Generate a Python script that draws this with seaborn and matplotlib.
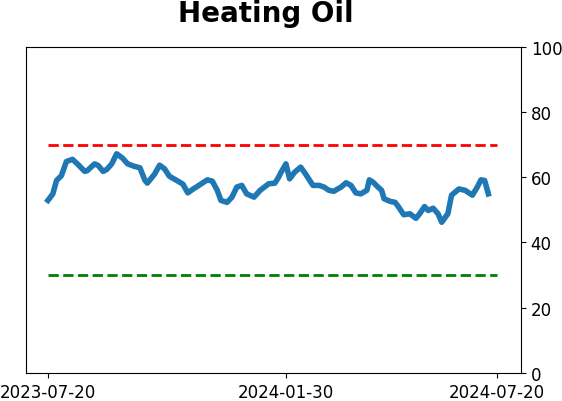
import matplotlib
matplotlib.use('Agg')
import matplotlib.pyplot as plt
import matplotlib.dates as mdates
import seaborn as sns
import pandas as pd

dates = ['2023-07-20', '2023-07-24', '2023-07-27', '2023-07-31', '2023-08-04', '2023-08-09',
         '2023-08-13', '2023-08-19', '2023-08-21', '2023-08-27', '2023-08-30', '2023-09-03',
         '2023-09-06', '2023-09-10', '2023-09-14', '2023-09-19', '2023-09-23', '2023-09-28',
         '2023-10-03', '2023-10-07', '2023-10-09', '2023-10-15', '2023-10-19', '2023-10-23',
         '2023-10-27', '2023-11-03', '2023-11-07', '2023-11-11', '2023-11-15', '2023-11-18',
         '2023-11-22', '2023-11-27', '2023-12-01', '2023-12-05', '2023-12-08', '2023-12-13',
         '2023-12-17', '2023-12-21', '2023-12-25', '2023-12-29', '2024-01-04', '2024-01-09',
         '2024-01-16', '2024-01-21', '2024-01-24', '2024-01-26', '2024-01-30', '2024-02-02',
         '2024-02-06', '2024-02-11', '2024-02-15', '2024-02-21', '2024-02-26', '2024-03-01',
         '2024-03-05', '2024-03-09', '2024-03-15', '2024-03-19', '2024-03-23', '2024-03-27',
         '2024-03-31', '2024-04-05', '2024-04-07', '2024-04-10', '2024-04-14', '2024-04-17',
         '2024-04-19', '2024-04-24', '2024-04-28', '2024-05-01', '2024-05-05', '2024-05-10',
         '2024-05-15', '2024-05-18', '2024-05-22', '2024-05-25', '2024-05-29', '2024-06-02',
         '2024-06-05', '2024-06-10', '2024-06-13', '2024-06-19', '2024-06-24', '2024-06-30',
         '2024-07-04', '2024-07-07', '2024-07-10', '2024-07-13']
values = [52.9, 54.9, 59.0, 60.5, 64.8, 65.5,
          64.1, 61.8, 62.0, 64.1, 63.6, 61.8,
          62.4, 64.1, 67.2, 65.8, 64.1, 63.4,
          62.9, 59.1, 58.2, 61.0, 63.7, 62.6,
          60.3, 58.8, 57.9, 55.2, 56.3, 57.0,
          58.0, 59.2, 58.8, 56.0, 52.9, 52.3,
          53.9, 57.0, 57.5, 54.9, 53.9, 56.0,
          58.0, 58.2, 60.0, 61.5, 64.1, 59.5,
          61.5, 63.1, 61.0, 57.5, 57.5, 57.0,
          56.0, 55.7, 57.0, 58.3, 57.5, 55.2,
          54.9, 56.0, 59.2, 58.5, 57.0, 56.0,
          53.4, 52.6, 52.3, 50.8, 48.5, 48.8,
          47.4, 48.8, 51.0, 49.8, 50.5, 48.8,
          46.2, 48.8, 54.5, 56.4, 56.0, 54.5,
          57.0, 59.2, 59.0, 54.9]
upper_level = 70
lower_level = 30
tick_dates = ['2023-07-20', '2024-01-30', '2024-07-20']

df = pd.DataFrame({'date': pd.to_datetime(dates), 'value': values})

fig = plt.figure(figsize=(5.62, 4.02), dpi=100)
ax = fig.add_axes([0.046, 0.070, 0.881, 0.811])

sns.lineplot(x='date', y='value', data=df, ax=ax, color='#1f77b4', linewidth=4)

start, end = pd.Timestamp(tick_dates[0]), pd.Timestamp(tick_dates[-1])
ax.hlines(upper_level, start, end, colors='red', linestyles='--', linewidth=2)
ax.hlines(lower_level, start, end, colors='green', linestyles='--', linewidth=2)

ax.set_ylim(0, 100)
ax.set_xlim(start - pd.Timedelta(days=18), end + pd.Timedelta(days=19.6))
ax.set_xticks(pd.to_datetime(tick_dates))
ax.xaxis.set_major_formatter(mdates.DateFormatter('%Y-%m-%d'))
ax.yaxis.tick_right()
ax.set_yticks([0, 20, 40, 60, 80, 100])
ax.tick_params(labelsize=12)
ax.set_xlabel('')
ax.set_ylabel('')

fig.text(266 / 562, 1 - 14 / 402, 'Heating Oil', ha='center', va='center',
         fontsize=20, fontweight='bold')

fig.savefig('out.png', dpi=100)
